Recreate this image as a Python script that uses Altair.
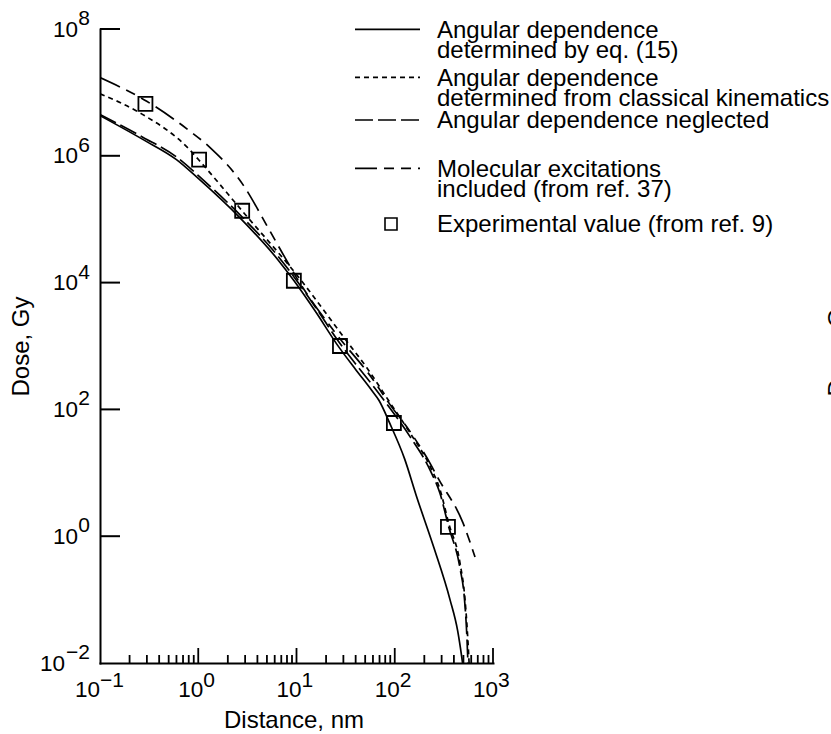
import altair as alt
import pandas as pd

# Radial dose distribution: distance from the ion path (nm) vs dose (Gy)
eq15_dist = [0.1, 0.275, 0.60, 1.0, 2.66, 6.46, 9.44, 15.8, 25.7, 39.8, 58.2, 69.2,
             89.1, 126, 167, 251, 365, 437, 480, 490]
eq15_dose = [4.3e6, 1.8e6, 8.7e5, 4.4e5, 1.05e5, 2.3e4, 1.07e4, 3.4e3, 1.07e3, 430,
             200, 138, 60, 16.6, 4.2, 0.65, 0.1, 0.032, 0.0126, 0.01]

classical_dist = [0.1, 0.255, 0.824, 1.02, 2.79, 11.6, 18.6, 31.6, 51.8, 89.1, 143,
                  229, 288, 355, 461, 519, 561, 571]
classical_dose = [9.5e6, 4.75e6, 1.23e6, 8.5e5, 1.36e5, 1.0e4, 3.8e3, 1.26e3, 457, 129,
                  42.7, 12.6, 5.5, 1.58, 0.38, 0.1, 0.017, 0.01]

neglected_dist = [0.1, 0.275, 0.603, 1.12, 2.66, 6.46, 9.44, 15.8, 25.7, 39.8, 58.2,
                  89.1, 143, 229, 288, 355, 461, 513, 543, 556]
neglected_dose = [4.47e6, 1.95e6, 9.55e5, 4.17e5, 1.17e5, 2.63e4, 1.23e4, 3.98e3, 1.29e3,
                  525, 251, 105, 37.2, 11.0, 4.79, 1.38, 0.316, 0.1, 0.025, 0.01]

molecular_dist = [0.1, 0.299, 0.824, 1.32, 2.85, 5.13, 7.64, 10, 25.1, 58.2, 89.1, 143,
                  229, 275, 495, 656]
molecular_dose = [1.71e7, 7.24e6, 2.44e6, 1.35e6, 3.51e5, 7.36e4, 2.47e4, 1.2e4, 1.58e3,
                  316, 120, 44.7, 14.1, 8.3, 1.62, 0.47]

exp_dist = [0.29, 1.02, 2.8, 9.4, 27.7, 98, 348]
exp_dose = [6.6e6, 8.7e5, 1.36e5, 1.07e4, 1.0e3, 61, 1.4]

# Axis decades
y_label_exps = [8, 6, 4, 2, 0, -2]
y_tick_exps = [8, 6, 4, 2, 0]
x_label_exps = [-1, 0, 1, 2, 3]
x_major_exps = [0, 1, 2, 3]
x_minor_mult = [2, 3, 4, 5, 6, 7, 8, 9]
x_minor_decades = [0.1, 1, 10, 100]

legend_rows = [
    "Angular dependence",
    "determined by eq. (15)",
    "Angular dependence",
    "determined from classical kinematics",
    "Angular dependence neglected",
    "Molecular excitations",
    "included (from ref. 37)",
    "Experimental value (from ref. 9)",
]

FONT = "Liberation Sans"
W, H = 393, 634
LEFT, TOP = 100, 29

xs = alt.Scale(type="log", domain=[0.1, 1000], nice=False)
ys = alt.Scale(type="log", domain=[0.01, 1e8], nice=False)
xaxis = alt.Axis(domain=True, domainColor="black", domainWidth=2, domainCap="square",
                 ticks=False, labels=False, grid=False, title=None)
yaxis = alt.Axis(domain=True, domainColor="black", domainWidth=2, domainCap="square",
                 ticks=False, labels=False, grid=False, title=None)


def X(field="x"):
    return alt.X(f"{field}:Q", scale=xs, axis=xaxis)


def Y(field="y"):
    return alt.Y(f"{field}:Q", scale=ys, axis=yaxis)


def curve(dist, dose, dash):
    df = pd.DataFrame({"x": dist, "y": dose})
    kw = dict(color="black", strokeWidth=1.7, interpolate="monotone", clip=True)
    if dash:
        kw["strokeDash"] = dash
    return alt.Chart(df).mark_line(**kw).encode(x=X(), y=Y(), order="x:Q")


DOT = [5, 4]
LONG = [18, 5]
MOLEC = [22, 7, 10, 7, 10, 7]

layers = [
    curve(eq15_dist, eq15_dose, None),
    curve(classical_dist, classical_dose, DOT),
    curve(neglected_dist, neglected_dose, LONG),
    curve(molecular_dist, molecular_dose, MOLEC),
    alt.Chart(pd.DataFrame({"x": exp_dist, "y": exp_dose})).mark_point(
        shape="square", size=196, filled=False, color="black", strokeWidth=1.8, opacity=1
    ).encode(x=X(), y=Y()),
]

# inward tick marks
ytick_df = pd.DataFrame({"y": [10.0 ** e for e in y_tick_exps]})
layers.append(alt.Chart(ytick_df).mark_rule(color="black", strokeWidth=2).encode(
    y=Y(), x=alt.value(0), x2=alt.value(20)))
xmaj_df = pd.DataFrame({"x": [10.0 ** e for e in x_major_exps]})
layers.append(alt.Chart(xmaj_df).mark_rule(color="black", strokeWidth=1.8).encode(
    x=X(), y=alt.value(H), y2=alt.value(H - 15)))
xmin_df = pd.DataFrame({"x": [m * d for d in x_minor_decades for m in x_minor_mult]})
layers.append(alt.Chart(xmin_df).mark_rule(color="black", strokeWidth=1.8).encode(
    x=X(), y=alt.value(H), y2=alt.value(H - 8)))

# power-of-ten tick labels
def sup(e):
    return ("\u2212" + str(-e)) if e < 0 else str(e)


ylab = pd.DataFrame({"y": [10.0 ** e for e in y_label_exps],
                     "exp": [sup(e) for e in y_label_exps],
                     "neg": [e < 0 for e in y_label_exps]})
xlab = pd.DataFrame({"x": [10.0 ** e for e in x_label_exps],
                     "exp": [sup(e) for e in x_label_exps],
                     "neg": [e < 0 for e in x_label_exps]})

base_style = dict(font=FONT, fontSize=22.5, color="black", baseline="alphabetic")
exp_style = dict(font=FONT, fontSize=21, color="black", baseline="alphabetic")

for neg, bx in [(False, -22), (True, -35)]:
    sub = ylab[ylab["neg"] == neg]
    layers.append(alt.Chart(sub).mark_text(align="right", dy=7.5, **base_style).encode(
        y=Y(), x=alt.value(bx), text=alt.value("10")))
layers.append(alt.Chart(ylab).mark_text(align="right", dy=-4, **exp_style).encode(
    y=Y(), x=alt.value(-10), text="exp:N"))

for neg, off in [(False, 5), (True, 0)]:
    sub = xlab[xlab["neg"] == neg]
    layers.append(alt.Chart(sub).mark_text(align="right", dx=off, **base_style).encode(
        x=X(), y=alt.value(H + 34), text=alt.value("10")))
    layers.append(alt.Chart(sub).mark_text(align="left", dx=off, **exp_style).encode(
        x=X(), y=alt.value(H + 24), text="exp:N"))

# axis titles
title_style = dict(font=FONT, fontSize=24, color="black", baseline="alphabetic", align="center")
one = pd.DataFrame({"t": ["Dose, Gy"]})
layers.append(alt.Chart(one).mark_text(angle=270, **title_style).encode(
    x=alt.value(-71), y=alt.value(317.5), text="t:N"))
layers.append(alt.Chart(one).mark_text(angle=270, **title_style).encode(
    x=alt.value(745), y=alt.value(317.5), text="t:N"))
layers.append(alt.Chart(pd.DataFrame({"t": ["Distance, nm"]})).mark_text(**title_style).encode(
    x=alt.value(194), y=alt.value(699), text="t:N"))

# legend
LX0, LX1, TX = 255, 320, 337
legend_baselines = [37.7, 58.2, 85.7, 106.2, 128.4, 176.7, 197.2, 232.4]
for label, bl in zip(legend_rows, legend_baselines):
    layers.append(alt.Chart(pd.DataFrame({"t": [label]})).mark_text(
        align="left", baseline="alphabetic", font=FONT, fontSize=24, color="black").encode(
        x=alt.value(TX), y=alt.value(bl - TOP), text="t:N"))

for dash, ly in [(None, 29.3), (DOT, 77.3), (LONG, 120), (MOLEC, 168.3)]:
    kw = dict(color="black", strokeWidth=1.7)
    if dash:
        kw["strokeDash"] = dash
    layers.append(alt.Chart(pd.DataFrame({"t": [0]})).mark_rule(**kw).encode(
        x=alt.value(LX0), x2=alt.value(LX1), y=alt.value(ly - TOP)))
layers.append(alt.Chart(pd.DataFrame({"t": [0]})).mark_point(
    shape="square", size=144, filled=False, color="black", strokeWidth=1.6, opacity=1).encode(
    x=alt.value(291), y=alt.value(224 - TOP)))

chart = alt.layer(*layers).properties(
    width=W, height=H,
    background="white",
    autosize=alt.AutoSizeParams(type="none"),
    padding={"left": LEFT, "top": TOP, "right": 831 - LEFT - W, "bottom": 734 - TOP - H},
).configure_view(stroke=None)

chart.save("out.html", embed_options={"renderer": "svg", "actions": False})
